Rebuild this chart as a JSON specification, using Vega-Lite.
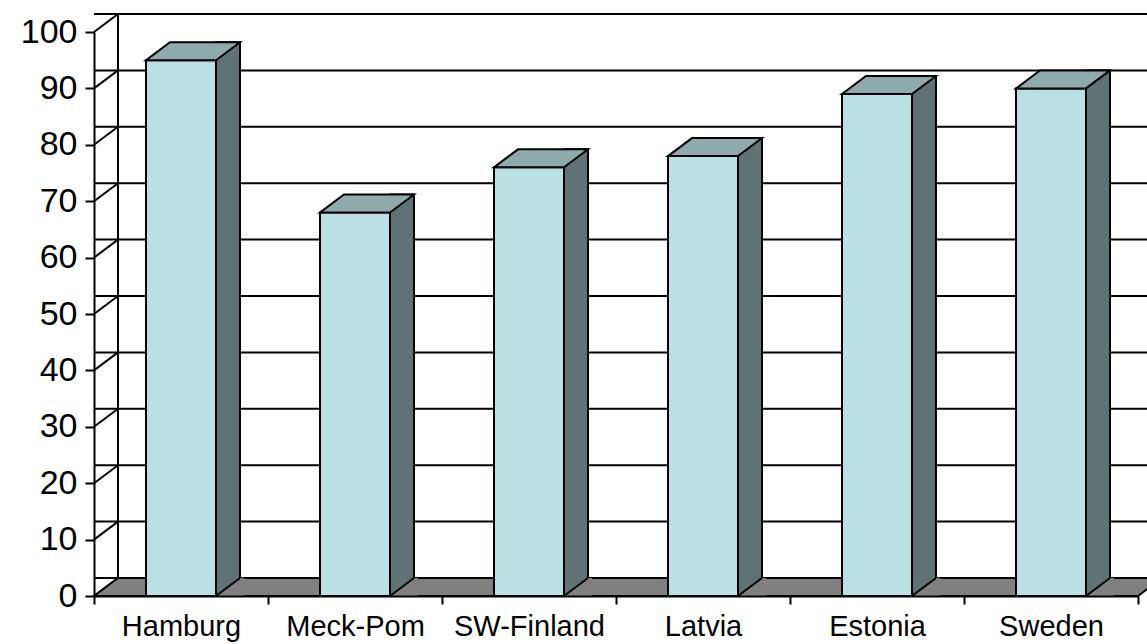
{
  "$schema": "https://vega.github.io/schema/vega-lite/v6.json",
  "width": 1044,
  "height": 564,
  "autosize": {"type": "none"},
  "padding": {"left": 94, "top": 32, "right": 9, "bottom": 48},
  "background": "white",
  "config": {"view": {"stroke": null}},
  "datasets": {
    "bars": [
      {"country": "Hamburg", "value": 95},
      {"country": "Meck-Pom", "value": 68},
      {"country": "SW-Finland", "value": 76},
      {"country": "Latvia", "value": 78},
      {"country": "Estonia", "value": 89},
      {"country": "Sweden", "value": 90}
    ],
    "grid": [
      {"v": 0}, {"v": 10}, {"v": 20}, {"v": 30}, {"v": 40}, {"v": 50},
      {"v": 60}, {"v": 70}, {"v": 80}, {"v": 90}, {"v": 100}
    ],
    "one": [{"k": 1}]
  },
  "data": {"name": "bars"},
  "encoding": {
    "x": {
      "field": "country",
      "type": "nominal",
      "sort": null,
      "scale": {"domain": ["Hamburg", "Meck-Pom", "SW-Finland", "Latvia", "Estonia", "Sweden"], "paddingInner": 0, "paddingOuter": 0},
      "axis": {
        "title": null,
        "labelAngle": 0,
        "labelFont": "Liberation Sans",
        "labelFontSize": 29,
        "labelColor": "black",
        "labelPadding": 8,
        "domainColor": "black",
        "domainWidth": 2,
        "tickColor": "black",
        "tickWidth": 2,
        "tickSize": 8,
        "tickBand": "extent",
        "grid": false,
        "zindex": 1
      }
    },
    "y": {
      "type": "quantitative",
      "scale": {"domain": [0, 100], "nice": false},
      "axis": {
        "title": null,
        "values": [0, 10, 20, 30, 40, 50, 60, 70, 80, 90, 100],
        "labelFont": "Liberation Sans",
        "labelFontSize": 34,
        "labelColor": "black",
        "labelPadding": 8,
        "domainColor": "black",
        "domainWidth": 2,
        "tickColor": "black",
        "tickWidth": 2,
        "tickSize": 9,
        "grid": false,
        "zindex": 1
      }
    }
  },
  "layer": [
    {
      "data": {"name": "grid"},
      "mark": {"type": "rule", "color": "black", "strokeWidth": 2, "xOffset": 24, "yOffset": -18},
      "encoding": {"x": null, "y": {"field": "v", "type": "quantitative"}}
    },
    {
      "data": {"name": "grid"},
      "mark": {"type": "point", "shape": "M0,0L24,-18", "size": 4, "filled": false, "stroke": "black", "strokeWidth": 2, "opacity": 1},
      "encoding": {
        "x": {"datum": "Hamburg", "bandPosition": 0},
        "y": {"field": "v", "type": "quantitative"}
      }
    },
    {
      "data": {"name": "one"},
      "mark": {"type": "rule", "color": "black", "strokeWidth": 2, "xOffset": 24, "yOffset": -18, "y2Offset": -18},
      "encoding": {
        "x": {"datum": "Hamburg", "bandPosition": 0},
        "y": {"datum": 100},
        "y2": {"datum": 0}
      }
    },
    {
      "data": {"name": "one"},
      "mark": {"type": "point", "shape": "M0,0L1044,0L1068,-18L24,-18Z", "size": 4, "filled": true, "fill": "#808080", "stroke": "black", "strokeWidth": 2, "opacity": 1},
      "encoding": {
        "x": {"datum": "Hamburg", "bandPosition": 0},
        "y": {"datum": 0}
      }
    },
    {
      "mark": {"type": "bar", "width": 24, "xOffset": 47, "yOffset": -18, "fill": "#5F7374", "stroke": "black", "strokeWidth": 2},
      "encoding": {
        "y": {"field": "value", "type": "quantitative"},
        "y2": {"datum": 0}
      }
    },
    {
      "mark": {"type": "point", "shape": "M35,0L63,0L63,-18L59,-18Z", "size": 4, "filled": true, "fill": "#808080", "strokeWidth": 0, "opacity": 1},
      "encoding": {"y": {"datum": 0}}
    },
    {
      "mark": {"type": "point", "shape": "M35,0L59,-18", "size": 4, "filled": false, "stroke": "black", "strokeWidth": 2, "opacity": 1},
      "encoding": {"y": {"datum": 0}}
    },
    {
      "mark": {"type": "bar", "width": 70, "fill": "#BBE0E3", "stroke": "black", "strokeWidth": 2},
      "encoding": {
        "y": {"field": "value", "type": "quantitative"},
        "y2": {"datum": 0}
      }
    },
    {
      "mark": {"type": "point", "shape": "M-35,0L35,0L59,-18L-11,-18Z", "size": 4, "filled": true, "fill": "#8FAAAA", "stroke": "black", "strokeWidth": 2, "opacity": 1},
      "encoding": {"y": {"field": "value", "type": "quantitative"}}
    }
  ]
}
